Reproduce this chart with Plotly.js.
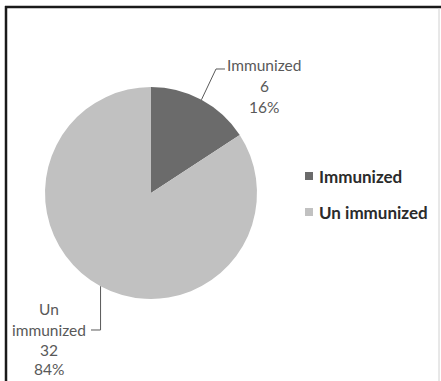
<!DOCTYPE html>
<html>
<head>
<meta charset="utf-8">
<script src="https://cdn.plot.ly/plotly-3.0.1.min.js"></script>
<style>
  html, body { margin: 0; padding: 0; background: #ffffff; }
  #chart { width: 441px; height: 381px; }
</style>
</head>
<body>
<div id="chart"></div>
<script>
// Immunization status of the group
const categories = ['Immunized', 'Un immunized'];
const counts = [6, 32];
const sliceColors = ['#6b6b6b', '#c1c1c1'];

const W = 441, H = 381;
const px = x => x / W;          // pixel -> paper x
const py = y => 1 - y / H;      // pixel -> paper y (pixels measured from top)

// pie geometry in pixels
const cx = 151, cy = 193, R = 106;

const total = counts.reduce((a, b) => a + b, 0);
const percents = counts.map(v => Math.round(v / total * 100) + '%');

// mid-angle of each slice (clockwise from 12 o'clock) and its point on the rim
let cum = 0;
const rimPts = counts.map(v => {
  const a = 2 * Math.PI * (cum + v / 2) / total;
  cum += v;
  return [cx + R * Math.sin(a), cy - R * Math.cos(a)];
});

const labelFont = { family: 'Lato, sans-serif', size: 15.5, color: '#595959' };
const annotations = [];
function addLines(lines, x, ys) {
  lines.forEach((t, i) => annotations.push({
    xref: 'paper', yref: 'paper', x: px(x), y: py(ys[i]),
    xanchor: 'center', yanchor: 'middle', showarrow: false,
    text: t, font: labelFont
  }));
}
// data labels: name, count, percentage
addLines([categories[0], String(counts[0]), percents[0]], 264, [65, 86, 107]);
addLines(['Un', 'immunized', String(counts[1]), percents[1]], 49, [309, 330, 350, 369]);

function path(pts) {
  return pts.map((p, i) => (i ? 'L' : 'M') + px(p[0]).toFixed(5) + ',' + py(p[1]).toFixed(5)).join(' ');
}
const leaderStyle = { color: '#595959', width: 1 };

// legend: colour key squares and bold category names
const legendRows = [176, 212];
const shapes = [];
categories.forEach((c, i) => {
  shapes.push({ type: 'rect', xref: 'paper', yref: 'paper',
    x0: px(305), x1: px(313), y0: py(legendRows[i] + 4), y1: py(legendRows[i] - 4),
    fillcolor: sliceColors[i], line: { width: 0 } });
  annotations.push({ xref: 'paper', yref: 'paper', x: px(317), y: py(legendRows[i]),
    xanchor: 'left', yanchor: 'middle', showarrow: false, text: '<b>' + c + '</b>',
    font: { family: 'Lato, sans-serif', size: 17, color: '#2b2b2b' } });
});

shapes.push(
  // leader lines
  { type: 'path', xref: 'paper', yref: 'paper', line: leaderStyle,
    path: path([rimPts[0], [216, 69], [225, 69]]) },
  { type: 'path', xref: 'paper', yref: 'paper', line: leaderStyle,
    path: path([rimPts[1], [rimPts[1][0], 330], [91, 330]]) },
  // chart frame
  { type: 'line', xref: 'paper', yref: 'paper', x0: px(5), x1: px(441), y0: py(7), y1: py(7),
    line: { color: '#1a1a1a', width: 2.5 } },
  { type: 'line', xref: 'paper', yref: 'paper', x0: px(6), x1: px(6), y0: py(6), y1: py(381),
    line: { color: '#1a1a1a', width: 2.5 } },
  { type: 'line', xref: 'paper', yref: 'paper', x0: px(439), x1: px(439), y0: py(8), y1: py(381),
    line: { color: '#d0d0d0', width: 1 } }
);

const trace = {
  type: 'pie',
  labels: categories,
  values: counts,
  sort: false,
  direction: 'clockwise',
  rotation: 0,
  textinfo: 'none',
  hoverinfo: 'label+value+percent',
  marker: { colors: sliceColors, line: { width: 0 } },
  domain: { x: [px(cx - R), px(cx + R)], y: [py(cy + R), py(cy - R)] }
};

const layout = {
  width: W, height: H,
  margin: { l: 0, r: 0, t: 0, b: 0 },
  paper_bgcolor: '#ffffff',
  plot_bgcolor: '#ffffff',
  showlegend: false,
  annotations: annotations,
  shapes: shapes
};

Plotly.newPlot('chart', [trace], layout, { displayModeBar: false, staticPlot: true });
</script>
</body>
</html>
